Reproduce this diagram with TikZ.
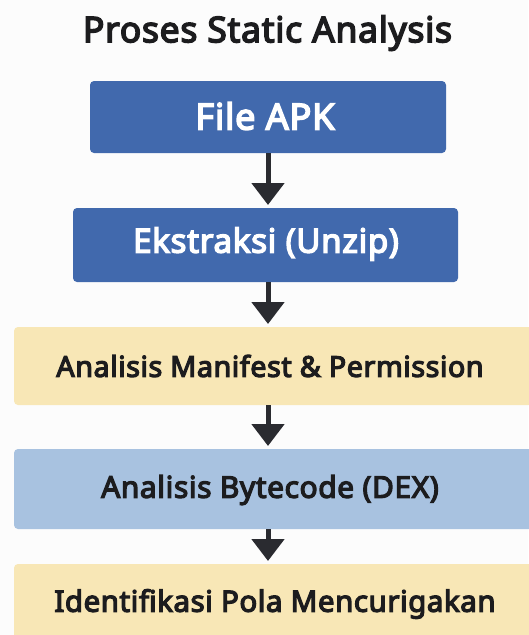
\documentclass[tikz,border=0pt]{standalone}
\usepackage{fontspec}
\setmainfont{Noto Sans}[AutoFakeBold=4.2, LetterSpace=2]
\usetikzlibrary{arrows.meta}
\definecolor{bgc}{HTML}{FCFCFC}
\definecolor{darkblue}{HTML}{4169AD}
\definecolor{lightblue}{HTML}{A8C2E0}
\definecolor{paleyellow}{HTML}{F8E7B6}
\definecolor{inkc}{HTML}{1C1C1E}
\definecolor{arrowc}{HTML}{2A2B30}
\tikzset{
  box/.style={rounded corners=4pt, inner sep=0pt},
  boxtext/.style={font=\bfseries\fontsize{#1}{#1}\selectfont, inner sep=0pt},
  flow/.style={draw=arrowc, line width=5pt,
    -{Triangle[width=32pt,length=22pt]}, shorten >=3pt},
}
\begin{document}
\begin{tikzpicture}[x=1pt,y=-1pt]
  % canvas
  \fill[bgc] (0,0) rectangle (528,635);
  \useasboundingbox (0,0) rectangle (528,635);

  % title
  \node[boxtext=35.5, text=inkc] (title) at (267.5,33) {Proses Static Analysis};

  % process boxes
  \fill[darkblue, box] (90,81) rectangle (446,153);
  \coordinate (b1n) at (268,81); \coordinate (b1s) at (268,153);
  \node[boxtext=36.2, text=white] (t1) at (265,116) {File APK};

  \fill[darkblue, box] (73,208) rectangle (458,282);
  \coordinate (b2n) at (268,208); \coordinate (b2s) at (268,282);
  \node[boxtext=33.2, text=white] (t2) at (266,244) {Ekstraksi (Unzip)};

  \fill[paleyellow, box] (14,327) rectangle (545,405);
  \coordinate (b3n) at (268,327); \coordinate (b3s) at (268,405);
  \node[boxtext=28.7, text=inkc] (t3) at (270,366) {Analisis Manifest \& Permission};

  \fill[lightblue, box] (14,449) rectangle (545,529);
  \coordinate (b4n) at (268,449); \coordinate (b4s) at (268,529);
  \node[boxtext=29.9, text=inkc] (t4) at (270,490) {Analisis Bytecode (DEX)};

  \fill[paleyellow, box] (14,564) rectangle (545,660);
  \coordinate (b5n) at (268,564);
  \node[boxtext=29.4, text=inkc] (t5) at (275,604) {Identifikasi Pola Mencurigakan};

  % connectors
  \draw[flow] (b1s) -- (b2n);
  \draw[flow] (b2s) -- (b3n);
  \draw[flow] (b3s) -- (b4n);
  \draw[flow] (b4s) -- (b5n);
\end{tikzpicture}
\end{document}
